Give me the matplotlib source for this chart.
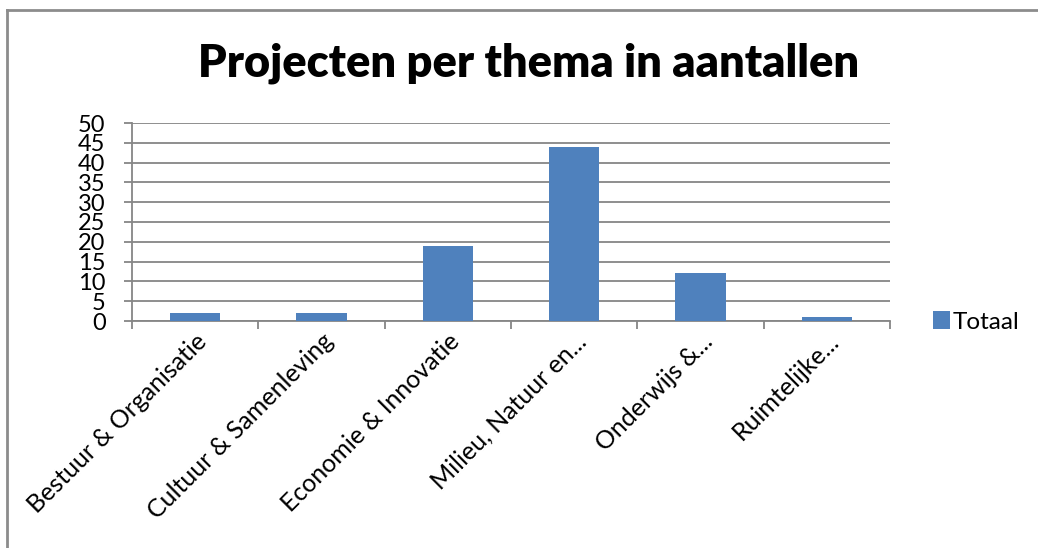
import matplotlib
matplotlib.use("Agg")
import matplotlib.pyplot as plt
from matplotlib.lines import Line2D
import numpy as np

# chart data
categories = ["Bestuur & Organisatie", "Cultuur & Samenleving", "Economie & Innovatie",
              "Milieu, Natuur en...", "Onderwijs &...", "Ruimtelijke..."]
totals = [2, 2, 19, 44, 12, 1]
y_ticks = [0, 5, 10, 15, 20, 25, 30, 35, 40, 45, 50]

BAR_COLOR = "#4F81BD"
GRID_COLOR = "#868686"

plt.rcParams["font.family"] = ["Lato", "DejaVu Sans"]

fig = plt.figure(figsize=(10.38, 5.48), dpi=100)
ax = fig.add_axes([132 / 1038, 1 - 321 / 548, 758 / 1038, 198 / 548])

x = np.arange(len(categories))
ax.bar(x, totals, width=0.4, color=BAR_COLOR, label="Totaal", zorder=3)

ax.set_xlim(-0.5, len(categories) - 0.5)
ax.set_ylim(0, 50)
ax.set_yticks(y_ticks)
ax.set_yticklabels([str(v) for v in y_ticks], fontsize=17)
ax.yaxis.grid(True, color=GRID_COLOR, linewidth=1.3, zorder=0)

# category labels at the centres, tick marks at the boundaries
ax.set_xticks(np.arange(-0.5, len(categories)), minor=False)
ax.set_xticklabels([])
ax.set_xticks(x, minor=True)
ax.set_xticklabels(categories, minor=True, rotation=45, ha="right", va="top",
                   rotation_mode="anchor", fontsize=18)
ax.tick_params(axis="x", which="minor", length=0, pad=6)
ax.tick_params(axis="x", which="major", length=6, width=1.3, color=GRID_COLOR)
ax.tick_params(axis="y", length=6, width=1.3, color=GRID_COLOR, pad=13)

for side in ["top", "right"]:
    ax.spines[side].set_visible(False)
for side in ["left", "bottom"]:
    ax.spines[side].set_color(GRID_COLOR)
    ax.spines[side].set_linewidth(1.3)

fig.text(529 / 1038, 1 - 63 / 548, "Projecten per thema in aantallen",
         ha="center", va="center", fontsize=32.5, fontweight="heavy")

ax.legend(loc="center left", bbox_to_anchor=(911 / 1038, 1 - 322 / 548),
          bbox_transform=fig.transFigure, frameon=False, fontsize=17.5,
          handlelength=0.7, handleheight=0.7, handletextpad=0.1)

# chart frame (only top and left edges visible in the original)
fig.add_artist(Line2D([7 / 1038, 7 / 1038], [0, 1 - 10 / 548], color="#8C8C8C",
                      linewidth=2, transform=fig.transFigure))
fig.add_artist(Line2D([7 / 1038, 1], [1 - 10 / 548, 1 - 10 / 548], color="#8C8C8C",
                      linewidth=2, transform=fig.transFigure))

fig.savefig("out.png", dpi=100)
